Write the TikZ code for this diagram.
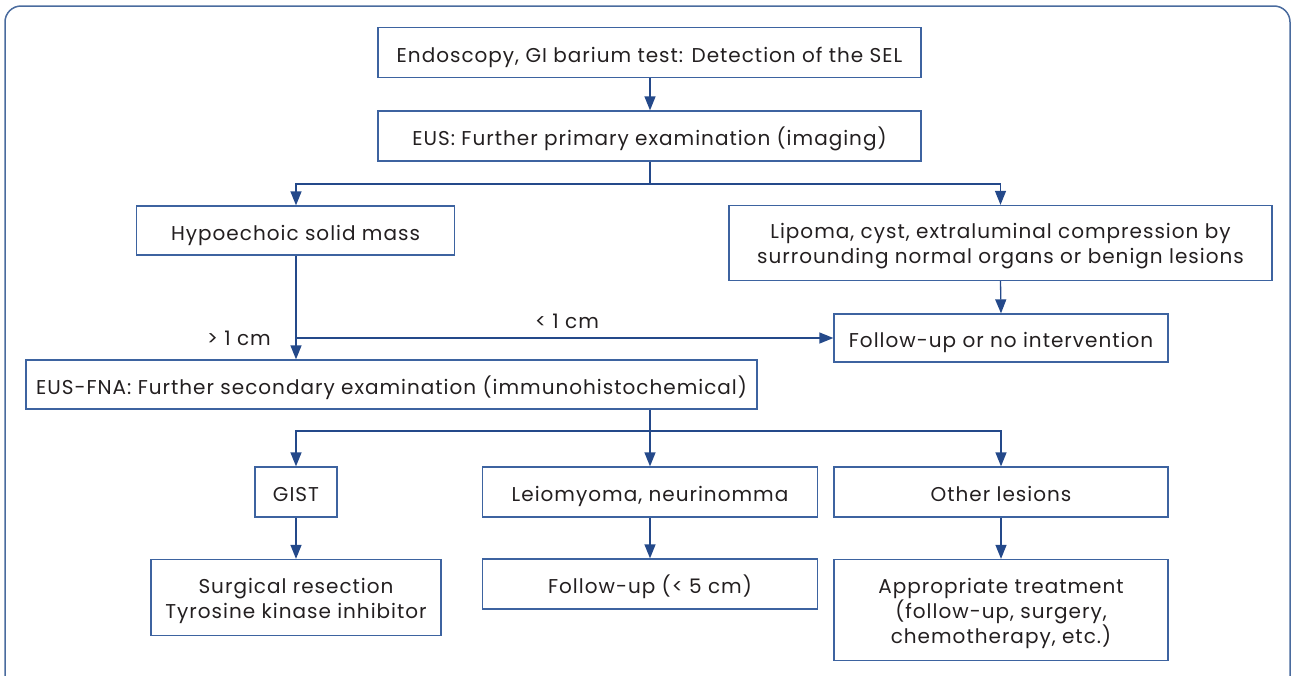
\documentclass[tikz,border=0pt]{standalone}
\usepackage{fontspec}
\setmainfont{Poppins}[LetterSpace=5]
\usetikzlibrary{arrows.meta}
\definecolor{boxc}{HTML}{3D63A0}
\definecolor{linec}{HTML}{24498A}
\definecolor{framec}{HTML}{4A6B9E}
\definecolor{txt}{HTML}{231F20}
\begin{document}
\begin{tikzpicture}[x=1pt,y=-1pt,
  box/.style={draw=boxc,line width=1.3pt,inner sep=0pt,align=center,text=txt,font=\fontsize{20}{25}\selectfont,text height=23pt,text depth=4pt},
  conn/.style={draw=linec,line width=1.3pt},
  arr/.style={conn,-{Triangle[length=14pt,width=11pt]}},
  lbl/.style={text=txt,font=\fontsize{20}{25}\selectfont,inner sep=0pt,anchor=base}]
\useasboundingbox (0,0) rectangle (1292,675);
\draw[framec,line width=1.5pt,rounded corners=16pt] (5,6) -- (1290,6) -- (1290,700) -- (5,700) -- cycle;
\node[box,minimum width=543,minimum height=50] (endo) at (649.5,52.5) {Endoscopy, GI barium test: Detection of the SEL};
\node[box,minimum width=543,minimum height=50] (eus) at (649.5,136) {EUS: Further primary examination (imaging)};
\node[box,minimum width=318,minimum height=49] (hypo) at (295.5,230.5) {Hypoechoic solid mass};
\node[box,text height=44pt,text depth=4pt,minimum width=543,minimum height=75] (lip) at (1000.5,243) {Lipoma, cyst, extraluminal compression by\\surrounding normal organs or benign lesions};
\node[box,minimum width=334,minimum height=48] (fu1) at (1001,338) {Follow-up or no intervention};
\node[box,minimum width=731,minimum height=49] (fna) at (391.5,384.5) {EUS-FNA: Further secondary examination (immunohistochemical)};
\node[box,minimum width=82,minimum height=50] (gist) at (296,492) {GIST};
\node[box,minimum width=335,minimum height=50] (leio) at (650,492) {Leiomyoma, neurinomma};
\node[box,minimum width=334,minimum height=50] (oth) at (1001,492) {Other lesions};
\node[box,text height=45pt,text depth=4pt,minimum width=290,minimum height=76] (surg) at (296,597.5) {Surgical resection\\Tyrosine kinase inhibitor};
\node[box,minimum width=335,minimum height=50] (fu2) at (650,584) {Follow-up (< 5 cm)};
\node[box,text height=70pt,text depth=4pt,minimum width=334,minimum height=101] (appr) at (1001,610) {Appropriate treatment\\(follow-up, surgery,\\chemotherapy, etc.)};
\coordinate (j1) at (650,184);
\coordinate (j2) at (296,338);
\coordinate (j3) at (650,431);
\draw[arr] (endo.south -| j1) -- (eus.north -| j1);
\draw[conn] (eus.south -| j1) -- (j1);
\draw[arr] (j1) -| (gist.north |- hypo.north);
\draw[arr] (j1) -| (lip.north);
\draw[arr] (hypo.south -| j2) -- (fna.north -| j2);
\draw[arr] (j2) -- (fu1.west);
\draw[arr] (lip.south) -- (fu1.north);
\node[lbl] (gt) at (239,345) {> 1 cm};
\node[lbl] (lt) at (567,328) {< 1 cm};
\draw[conn] (fna.south -| j3) -- (j3);
\draw[arr] (j3) -| (gist.north);
\draw[arr] (j3) -- (leio.north -| j3);
\draw[arr] (j3) -| (oth.north);
\draw[arr] (gist.south) -- (surg.north -| gist.south);
\draw[arr] (leio.south) -- (fu2.north);
\draw[arr] (oth.south) -- (appr.north);
\end{tikzpicture}
\end{document}
